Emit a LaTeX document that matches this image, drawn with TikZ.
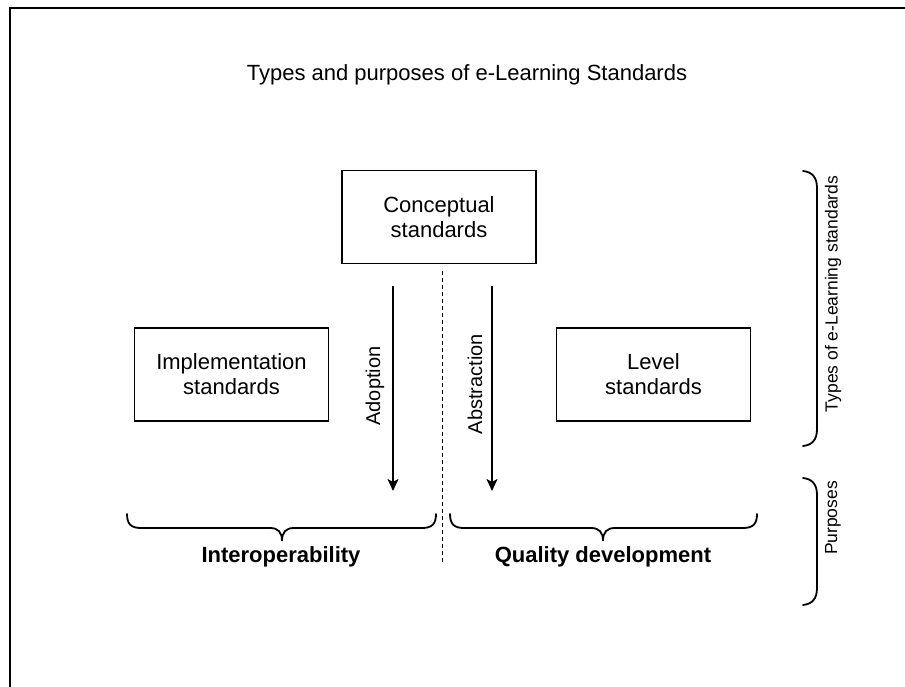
\documentclass[tikz,border=0pt]{standalone}
\usepackage{fontspec}
\setmainfont{Liberation Sans}
\usetikzlibrary{arrows.meta}
\begin{document}
\begin{tikzpicture}[x=1pt,y=-1pt,
  box/.style={draw,line width=1.8pt,minimum width=194pt,minimum height=93pt,align=center,inner sep=0pt,font=\fontsize{22}{25}\selectfont},
  arr/.style={line width=1.8pt,-{Stealth[length=12pt,width=11pt,inset=3pt]}},
  lbl/.style={font=\fontsize{20}{24}\selectfont,rotate=90,inner sep=0pt},
  side/.style={font=\fontsize{17.5}{20}\selectfont,rotate=90,inner sep=0pt},
  bigtext/.style={font=\fontsize{22}{25}\selectfont,inner sep=0pt},
  boldtext/.style={font=\fontsize{22}{25}\selectfont\bfseries,inner sep=0pt},
  brk/.style={line width=1.8pt,line cap=round},
  sep/.style={line width=0.9pt,dash pattern=on 4pt off 3pt}
]
\useasboundingbox (0,0) rectangle (905,686);
\fill[white] (0,0) rectangle (905,686);
% frame
\draw[line width=2pt] (10,690) -- (10,7.7) -- (910,7.7);

% title
\node[bigtext] (title) at (467,75) {Types and purposes of e-Learning Standards};

% boxes
\node[box] (concept) at (439,217) {Conceptual\\standards};
\node[box] (impl) at (231.5,374.5) {Implementation\\standards};
\node[box] (level) at (653.5,374.5) {Level\\standards};

% arrows
\coordinate (a1s) at (393,286);
\coordinate (a1e) at (393,491);
\coordinate (a2s) at (492,286);
\coordinate (a2e) at (492,491);
\draw[arr] (a1s) -- (a1e);
\draw[arr] (a2s) -- (a2e);
\node[lbl] (adopt) at (375,386) {Adoption};
\node[lbl] (abstr) at (475,384) {Abstraction};

% dashed separator
\coordinate (d1) at (442,271);
\coordinate (d2) at (442,563);
\draw[sep] (d1) -- (d2);

% bottom braces
\draw[brk] (127,514) .. controls (127,524) and (131,528) .. (141,528) -- (270,528)
  .. controls (278,528) and (282,532) .. (282,541)
  .. controls (282,532) and (286,528) .. (294,528) -- (422,528)
  .. controls (432,528) and (436,524) .. (436,514);
\draw[brk] (450,514) .. controls (450,524) and (454,528) .. (464,528) -- (591,528)
  .. controls (599,528) and (603,532) .. (603,541)
  .. controls (603,532) and (607,528) .. (615,528) -- (743,528)
  .. controls (753,528) and (757,524) .. (757,514);
\node[boldtext] (interop) at (281,557) {Interoperability};
\node[boldtext] (quality) at (603,557) {Quality development};

% right brackets
\draw[brk] (803,171) .. controls (812,172) and (817,177) .. (817,188) -- (817,429)
  .. controls (817,440) and (812,445) .. (803,446);
\draw[brk] (803,478) .. controls (812,479) and (817,484) .. (817,495) -- (817,588)
  .. controls (817,599) and (812,604) .. (803,605);
\node[side] (types) at (833,294) {Types of e-Learning standards};
\node[side] (purp) at (833,518) {Purposes};
\end{tikzpicture}
\end{document}
